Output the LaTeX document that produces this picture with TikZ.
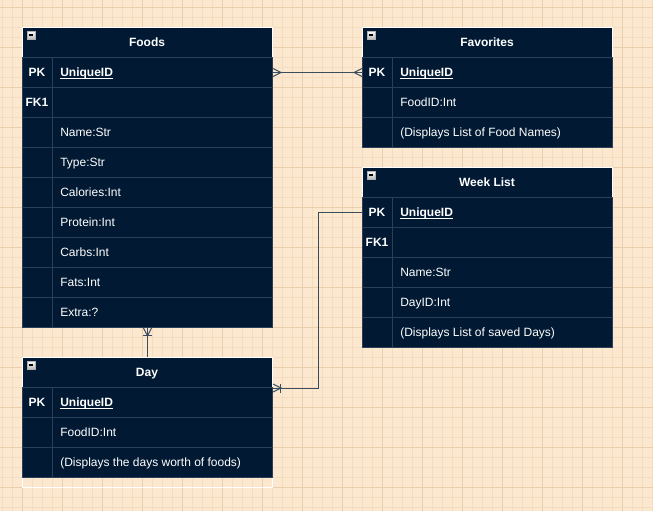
\documentclass[tikz,border=0pt]{standalone}
\usepackage{fontspec}
\setmainfont{Liberation Sans}
\usetikzlibrary{shadings}
\definecolor{bgc}{HTML}{FCE7CF}
\definecolor{minorg}{HTML}{F4DCC0}
\definecolor{majorg}{HTML}{EACFAE}
\definecolor{navy}{HTML}{011932}
\definecolor{rowc}{HTML}{2B4058}
\definecolor{connc}{HTML}{3A4C5E}
\newcommand\myul[1]{\setbox0\hbox{#1}\rlap{\rule[-2pt]{\wd0}{0.6pt}}\box0}
\tikzset{
  hdr/.style={draw=white, fill=navy, minimum width=187.5pt, minimum height=22.5pt, anchor=north west, inner sep=0pt, line width=0.75pt},
  erow/.style={draw=rowc, fill=navy, minimum width=187.5pt, minimum height=22.5pt, anchor=north west, inner sep=0pt, line width=0.75pt},
  outer/.style={draw=white, minimum width=187.5pt, anchor=north west, inner sep=0pt, line width=0.75pt},
  hdrtxt/.style={font=\fontsize{9}{11}\selectfont\bfseries, text=white, inner sep=0pt, anchor=base},
  keytxt/.style={font=\fontsize{9}{11}\selectfont\bfseries, text=white, inner sep=0pt, anchor=base},
  fldtxt/.style={text=white, anchor=base west, inner sep=0pt, font=\fontsize{9}{11}\selectfont},
  minusbox/.style={draw=gray!60, top color=white, bottom color=gray!55, minimum size=6pt, inner sep=0pt, line width=0.4pt,
    path picture={\draw[black, line width=0.8pt] ([xshift=-1.8pt]path picture bounding box.center) -- ([xshift=1.8pt]path picture bounding box.center);}},
  conn/.style={draw=connc, line width=0.75pt},
}
\newcommand\ertable[6]{% name, x, y, total height (px), title, rows
  \node[outer, minimum height=#4*0.75pt] (#1) at (#2,#3) {};
  \node[hdr] (#1-h) at (#2,#3) {};
  \node[hdrtxt] (#1-t) at (#2+125,#3+19.3) {#5};
  \node[minusbox] (#1-m) at (#2+9,#3+8) {};
  \foreach \k/\f [count=\i] in {#6} {
    \node[erow] (#1-r\i) at (#2,#3+30*\i) {};
    \draw[rowc, line width=0.75pt] (#2+30,#3+30*\i) -- (#2+30,#3+30*\i+30);
    \node[keytxt] (#1-k\i) at (#2+15,#3+30*\i+19.3) {\k};
    \node[fldtxt] (#1-f\i) at (#2+38,#3+30*\i+19.3) {\f};
  }
}
\begin{document}
\begin{tikzpicture}[x=0.75pt,y=-0.75pt]
\useasboundingbox (0,0) rectangle (653,511);
\fill[bgc] (0,0) rectangle (653,511);
\foreach \x in {2,12,...,652} \draw[minorg, line width=0.75pt] (\x,0) -- (\x,511);
\foreach \y in {7,17,...,507} \draw[minorg, line width=0.75pt] (0,\y) -- (653,\y);
\foreach \x in {22,62,...,652} \draw[majorg, line width=0.75pt] (\x,0) -- (\x,511);
\foreach \y in {7,47,...,507} \draw[majorg, line width=0.75pt] (0,\y) -- (653,\y);

\ertable{foods}{22}{27}{300}{Foods}{PK/{\textbf{\myul{UniqueID}}}, FK1/, /Name:Str, /Type:Str, /Calories:Int, /Protein:Int, /Carbs:Int, /Fats:Int, /Extra:?}
\ertable{fav}{362}{27}{120}{Favorites}{PK/{\textbf{\myul{UniqueID}}}, /FoodID:Int, /(Displays List of Food Names)}
\ertable{week}{362}{167}{180}{Week List}{PK/{\textbf{\myul{UniqueID}}}, FK1/, /Name:Str, /DayID:Int, /(Displays List of saved Days)}
\ertable{day}{22}{357}{130}{Day}{PK/{\textbf{\myul{UniqueID}}}, /FoodID:Int, /(Displays the days worth of foods)}

% Foods -- Favorites (many to many)
\draw[conn] (foods-r1.east) -- (fav-r1.west);
\draw[conn] (foods-r1.east) ++(0,-4) -- ++(8,4) -- ++(-8,4);
\draw[conn] (fav-r1.west) ++(0,-4) -- ++(-8,4) -- ++(8,4);

% Foods -- Day
\draw[conn] (foods.south) -- (day.north);
\draw[conn] (foods.south) ++(-4,0) -- ++(4,8) -- ++(4,-8);
\draw[conn] (foods.south) ++(-4.5,7) -- ++(9,0);

% Day -- Week List
\coordinate (dstart) at ([shift={(0,1)}]day-r1.north east);
\draw[conn] (dstart) -- ++(45,0) |- (week-r1.west);
\draw[conn] (dstart) ++(0,-4) -- ++(8,4) -- ++(-8,4);
\draw[conn] (dstart) ++(7,-4.5) -- ++(0,9);
\end{tikzpicture}
\end{document}
